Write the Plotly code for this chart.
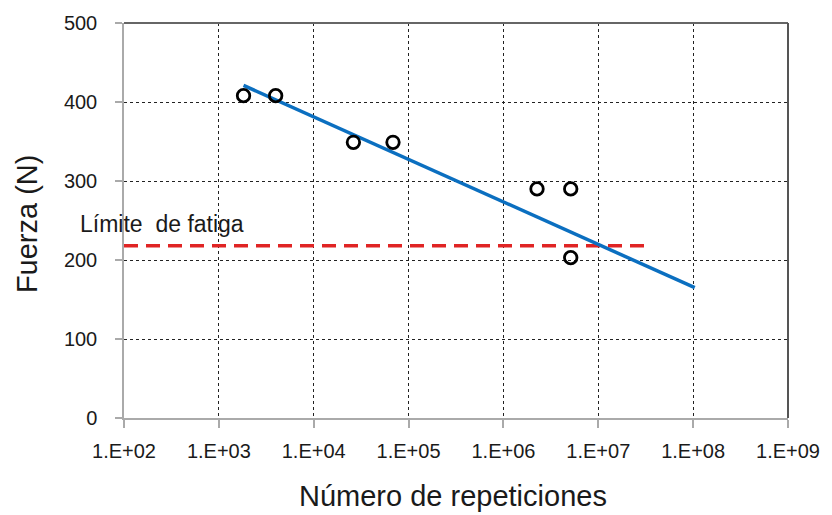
import plotly.graph_objects as go

# Fatigue test results: cycles to failure vs applied force
ciclos = [1820, 3970, 26200, 68500, 2.26e6, 5.12e6, 5.12e6]
fuerza = [408, 408, 349, 349, 290, 290, 203]

# Logarithmic trend line endpoints
tendencia_x = [1820, 1.04e8]
tendencia_y = [421, 165]

# Fatigue limit
limite_x = [1e2, 3.2e7]
limite_y = [218, 218]

tick_vals = [1e2, 1e3, 1e4, 1e5, 1e6, 1e7, 1e8, 1e9]
tick_text = ["1.E+02", "1.E+03", "1.E+04", "1.E+05", "1.E+06", "1.E+07", "1.E+08", "1.E+09"]

FONT = "Liberation Sans, Arial, sans-serif"

fig = go.Figure()

fig.add_trace(go.Scatter(
    x=limite_x, y=limite_y, mode="lines",
    line=dict(color="#e02424", width=3.5, dash="14px,8px"),
    hoverinfo="skip", showlegend=False,
))

fig.add_trace(go.Scatter(
    x=tendencia_x, y=tendencia_y, mode="lines",
    line=dict(color="#0b6fc0", width=3.5),
    showlegend=False,
))

fig.add_trace(go.Scatter(
    x=ciclos, y=fuerza, mode="markers",
    marker=dict(symbol="circle-open", size=12.5, color="black",
                line=dict(color="black", width=2.8)),
    showlegend=False,
))

fig.update_layout(
    width=832, height=515,
    margin=dict(l=124, r=38, t=17, b=97),
    paper_bgcolor="white", plot_bgcolor="white",
    font=dict(family=FONT, color="#1a1a1a"),
    xaxis=dict(
        type="log", range=[2, 9],
        tickvals=tick_vals, ticktext=tick_text,
        tickfont=dict(size=20, family=FONT, color="#1a1a1a"),
        ticks="outside", ticklen=8, tickcolor="#aaaaaa", tickwidth=1.5,
        ticklabelstandoff=6,
        showline=True, linecolor="#aaaaaa", linewidth=1.5,
        showgrid=True, gridcolor="#222222", gridwidth=1, griddash="3px,3px",
        zeroline=False,
    ),
    yaxis=dict(
        range=[0, 500], dtick=100,
        tickfont=dict(size=20, family=FONT, color="#1a1a1a"),
        ticks="outside", ticklen=7, tickcolor="#aaaaaa", tickwidth=1.5,
        ticklabelstandoff=14,
        showline=True, linecolor="#aaaaaa", linewidth=1.5,
        showgrid=True, gridcolor="#222222", gridwidth=1, griddash="3px,3px",
        zeroline=False,
    ),
    shapes=[
        dict(type="line", xref="paper", yref="paper", x0=0, x1=1, y0=1, y1=1,
             line=dict(color="#666666", width=2)),
        dict(type="line", xref="paper", yref="paper", x0=1, x1=1, y0=0, y1=1,
             line=dict(color="#555555", width=2)),
    ],
    annotations=[
        dict(text="Número de repeticiones", xref="paper", yref="paper",
             x=0.4955, y=-0.197, xanchor="center", yanchor="middle",
             showarrow=False, font=dict(size=29, family=FONT, color="#1a1a1a")),
        dict(text="Fuerza (N)", xref="paper", yref="paper",
             x=-0.146, y=0.491, xanchor="center", yanchor="middle", textangle=-90,
             showarrow=False, font=dict(size=29, family=FONT, color="#1a1a1a")),
        dict(text="Límite&nbsp; de fatiga", xref="paper", yref="paper",
             x=-0.069, y=0.4915, xanchor="left", yanchor="middle",
             showarrow=False, font=dict(size=23, family=FONT, color="#1a1a1a")),
    ],
)

fig.write_html("out.html")
